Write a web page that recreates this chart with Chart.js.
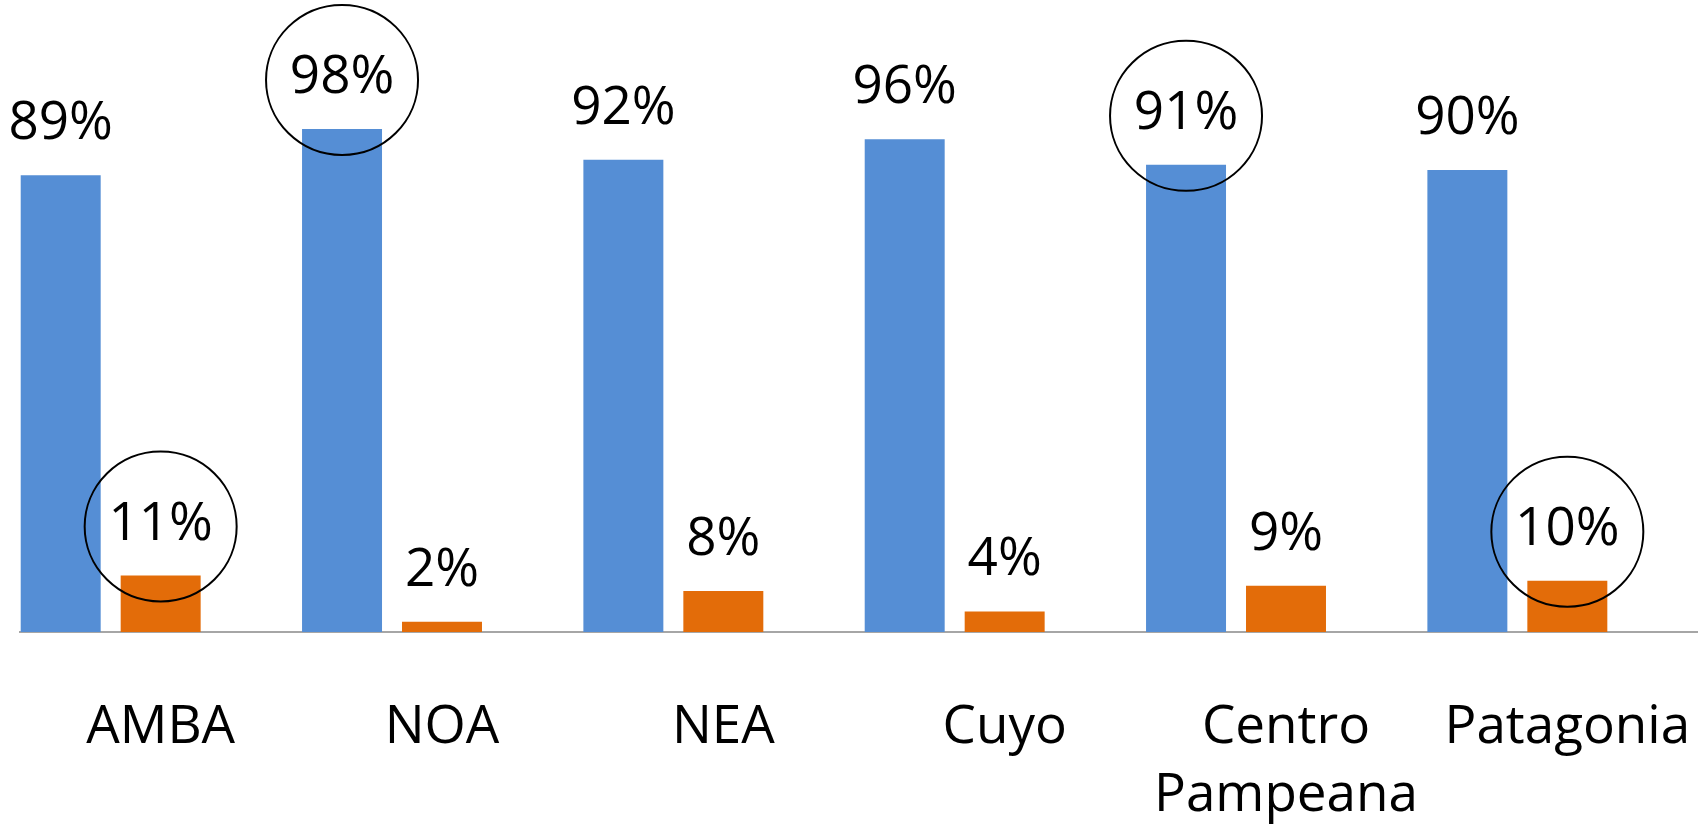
<!DOCTYPE html>
<html>
<head>
<meta charset="utf-8">
<script src="https://cdn.jsdelivr.net/npm/chart.js@4"></script>
<style>
  html, body { margin: 0; padding: 0; background: #fff; overflow: hidden; }
  #wrap { position: absolute; left: 0; top: 0; width: 1712px; height: 827px; }
</style>
</head>
<body>
<div id="wrap"><canvas id="regionChart"></canvas></div>
<script>
// regions (Centro Pampeana wraps onto two lines)
const categories = ['AMBA', 'NOA', 'NEA', 'Cuyo', ['Centro', 'Pampeana'], 'Patagonia'];
const blueValues = [89, 98, 92, 96, 91, 90];
const orangeValues = [11, 2, 8, 4, 9, 10];
// third, empty series: keeps the empty slot to the right of each pair
const emptyValues = [null, null, null, null, null, null];
// [category index, series index] of the circled labels
const circledPoints = [[1, 0], [0, 1], [4, 0], [5, 1]];

const FONT = "'Open Sans', sans-serif";
const charts = {};

const valueLabels = {
    id: 'valueLabels',
    afterDatasetsDraw(chart) {
        const ctx = chart.ctx;
        ctx.save();
        ctx.font = '53px ' + FONT;
        ctx.fillStyle = '#000';
        ctx.textAlign = 'center';
        ctx.textBaseline = 'alphabetic';
        chart.data.datasets.forEach((ds, di) => {
            const meta = chart.getDatasetMeta(di);
            meta.data.forEach((bar, i) => {
                const v = ds.data[i];
                if (v === null || v === undefined) return;
                ctx.fillText(v + '%', bar.x, bar.y - 36);
            });
        });

        // circles round some of the labels
        ctx.strokeStyle = '#000';
        ctx.lineWidth = 2;
        circledPoints.forEach(([ci, di]) => {
            const bar = chart.getDatasetMeta(di).data[ci];
            ctx.beginPath();
            ctx.ellipse(bar.x, bar.y - 49, 76, 75, 0, 0, Math.PI * 2);
            ctx.stroke();
        });
        ctx.restore();
    }
};

function renderRegionChart() {
    const cctx = document.getElementById('regionChart').getContext('2d');
    if (charts.region) charts.region.destroy();

    charts.region = new Chart(cctx, {
        type: 'bar',
        data: {
            labels: categories,
            datasets: [
                { label: 'A', data: blueValues, backgroundColor: '#558ed5' },
                { label: 'B', data: orangeValues, backgroundColor: '#e36c09' },
                { label: '', data: emptyValues, backgroundColor: 'rgba(0,0,0,0)' },
            ],
        },
        options: {
            responsive: true,
            maintainAspectRatio: false,
            animation: false,
            categoryPercentage: 1.066,
            barPercentage: 0.8,
            layout: { padding: { left: 20, right: 4, top: 16, bottom: 0 } },
            plugins: {
                legend: { display: false },
                tooltip: { enabled: false },
            },
            scales: {
                y: {
                    display: false,
                    min: 0,
                    max: 120,
                },
                x: {
                    grid: { display: false, drawTicks: false },
                    border: { display: true, color: '#a6a6a6', width: 2 },
                    ticks: {
                        color: '#000',
                        padding: 61,
                        maxRotation: 0,
                        autoSkip: false,
                        font: { family: FONT, size: 53, lineHeight: 1.3 },
                    },
                    afterFit: scale => {
                        scale.height = 195;
                        scale.paddingLeft = 0;
                        scale.paddingRight = 0;
                    },
                },
            },
        },
        plugins: [valueLabels],
    });
}

document.fonts.load("53px 'Open Sans'").then(renderRegionChart, renderRegionChart);
</script>
</body>
</html>
